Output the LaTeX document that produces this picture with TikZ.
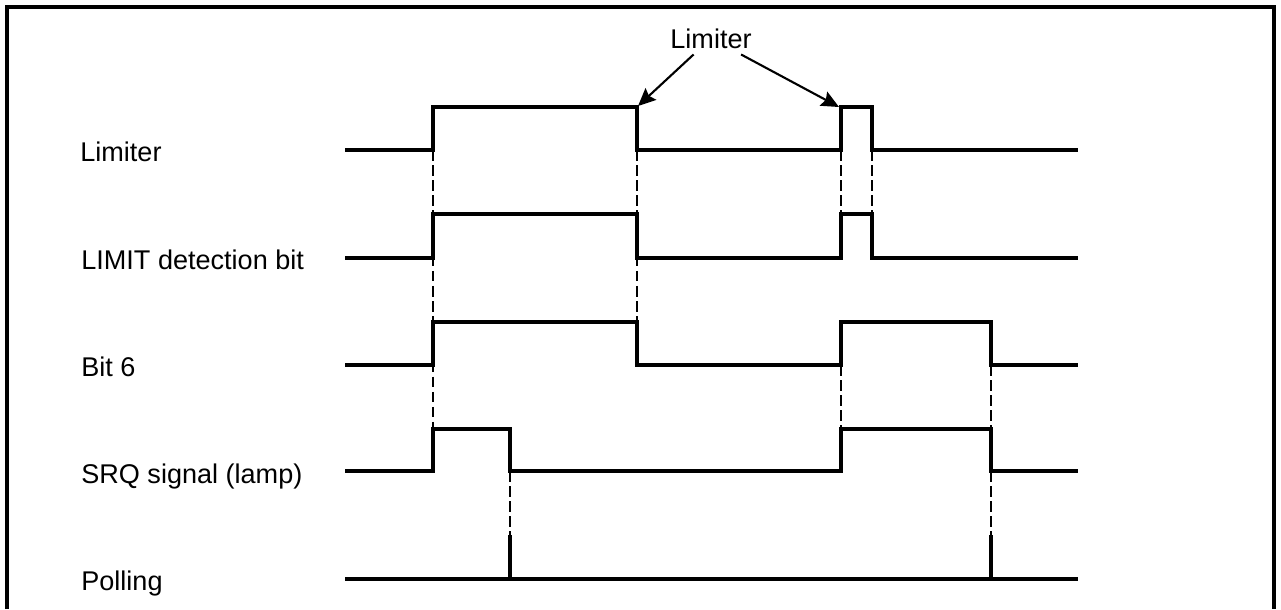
\documentclass[tikz,border=0pt]{standalone}
\usepackage{fontspec}
\setmainfont{Liberation Sans}
\usetikzlibrary{arrows.meta, positioning}
\tikzset{
  wave/.style={line width=2.8pt, line join=miter},
  guide/.style={line width=1.4pt, dash pattern=on 6pt off 2.6pt},
  pointer/.style={line width=1.2pt, -{Stealth[length=10pt, width=9pt, inset=1.5pt]}},
  rowlabel/.style={anchor=base west, inner sep=0pt}
}

\begin{document}
\begin{tikzpicture}[
    x=0.02cm, y=-0.02cm,
    font=\fontsize{15.4}{18}\selectfont,
]
\useasboundingbox (0,0) rectangle (1281,609);
\draw[line width=2.8pt] (7,609) -- (7,7) -- (1274,7) -- (1274,609);

% signal names
\node (limiter) [rowlabel] at (80,161) {Limiter};
\node (limbit)  [rowlabel] at (81,269) {LIMIT detection bit};
\node (bitsix)  [rowlabel] at (81,376) {Bit 6};
\node (srq)     [rowlabel] at (81,483) {SRQ signal (lamp)};
\node (polling) [rowlabel] at (81,590) {Polling};

% waveforms
\draw[wave] (345,150) -- (433,150) -- (433,107) -- (637,107) -- (637,150)
      -- (841,150) -- (841,107) -- (872,107) -- (872,150) -- (1078,150);
\draw[wave] (345,258) -- (433,258) -- (433,214) -- (637,214) -- (637,258)
      -- (841,258) -- (841,214) -- (872,214) -- (872,258) -- (1078,258);
\draw[wave] (345,365) -- (433,365) -- (433,322) -- (637,322) -- (637,365)
      -- (841,365) -- (841,322) -- (991,322) -- (991,365) -- (1078,365);
\draw[wave] (345,471) -- (433,471) -- (433,429) -- (510,429) -- (510,471)
      -- (841,471) -- (841,429) -- (991,429) -- (991,471) -- (1078,471);
\draw[wave] (345,579) -- (1078,579);
\draw[wave] (510,579) -- (510,535);
\draw[wave] (991,579) -- (991,535);

% timing guides
\foreach \x/\ya/\yb in {433/150/429, 637/150/365, 841/150/214, 872/150/214,
                        841/365/429, 991/365/429, 510/471/535, 991/471/535}
  \draw[guide] (\x,\ya) -- (\x,\yb);

% callout
\node (limtop) [anchor=base] at (711,48) {Limiter};
\coordinate (fallA) at (638,106);
\coordinate (riseB) at (839,107);
\draw[pointer] (limtop) -- (fallA);
\draw[pointer] (limtop) -- (riseB);
\end{tikzpicture}
\end{document}
